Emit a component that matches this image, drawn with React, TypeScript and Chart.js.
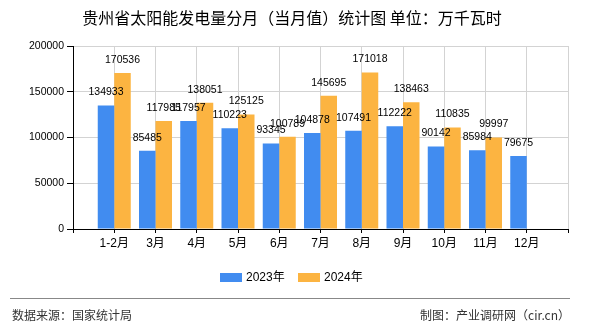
import React, { useEffect, useRef } from "react";
import { Chart, registerables } from "chart.js";

Chart.register(...registerables);

const TITLE = "贵州省太阳能发电量分月（当月值）统计图 单位：万千瓦时";
const SOURCE = "数据来源：国家统计局";
const MAKER = "制图：产业调研网（cir.cn）";

const categories = ["1-2月", "3月", "4月", "5月", "6月", "7月", "8月", "9月", "10月", "11月", "12月"];
const series2023 = [134933, 85485, 117957, 110223, 93345, 104878, 107491, 112222, 90142, 85984, 79675];
const series2024: (number | null)[] = [170536, 117985, 138051, 125125, 100789, 145695, 171018, 138463, 110835, 99997, null];
const yTicks = [0, 50000, 100000, 150000, 200000];

const BLUE = "#418CF0";
const ORANGE = "#FCB441";
const NUM_FONT = '"Liberation Sans", "Noto Sans CJK SC", sans-serif';
const CJK_FONT = '"Noto Sans CJK SC", "Liberation Sans", sans-serif';

const decorPlugin = {
  id: "decor",
  afterDatasetsDraw(chart: any) {
    const ctx = chart.ctx;
    ctx.save();
    ctx.font = `10.5px ${NUM_FONT}`;
    ctx.fillStyle = "#000";
    ctx.textAlign = "center";
    ctx.textBaseline = "middle";
    chart.data.datasets.forEach((ds: any, i: number) => {
      const meta = chart.getDatasetMeta(i);
      meta.data.forEach((bar: any, j: number) => {
        const v = ds.data[j];
        if (v == null) return;
        ctx.fillText(String(v), bar.x, bar.y - 13);
      });
    });
    ctx.restore();
  },
  afterDraw(chart: any) {
    const ctx = chart.ctx;
    ctx.save();
    // title
    ctx.fillStyle = "#000";
    ctx.font = `16px ${CJK_FONT}`;
    ctx.textAlign = "center";
    ctx.textBaseline = "middle";
    ctx.fillText(TITLE, 292, 18);
    // legend
    ctx.font = `12px ${NUM_FONT}`;
    ctx.textAlign = "left";
    const legendX = [220, 298];
    chart.data.datasets.forEach((ds: any, i: number) => {
      const x = legendX[i];
      ctx.fillStyle = ds.backgroundColor;
      ctx.fillRect(x, 273, 22, 9);
      ctx.fillStyle = "#000";
      ctx.fillText(ds.label, x + 26, 277.5);
    });
    // separator
    ctx.strokeStyle = "#888";
    ctx.lineWidth = 1;
    ctx.beginPath();
    ctx.moveTo(10, 298.5);
    ctx.lineTo(570, 298.5);
    ctx.stroke();
    // footer
    ctx.fillStyle = "#333";
    ctx.font = `12px ${CJK_FONT}`;
    ctx.textAlign = "left";
    ctx.fillText(SOURCE, 12, 315);
    ctx.textAlign = "right";
    ctx.fillText(MAKER, 570, 315);
    ctx.restore();
  },
};

export default function App() {
  const ref = useRef<HTMLCanvasElement | null>(null);
  useEffect(() => {
    if (!ref.current) return;
    const labels = ["", ...categories, ""];
    const d2023 = [null, ...series2023, null];
    const d2024 = [null, ...series2024, null];
    const chart = new Chart(ref.current, {
      type: "bar",
      data: {
        labels,
        datasets: [
          { label: "2023年", data: d2023, backgroundColor: BLUE, categoryPercentage: 0.8, barPercentage: 1.0 },
          { label: "2024年", data: d2024, backgroundColor: ORANGE, categoryPercentage: 0.8, barPercentage: 1.0 },
        ],
      },
      options: {
        responsive: false,
        animation: false,
        devicePixelRatio: 1,
        layout: { padding: { top: 46, right: 22, left: 0, bottom: 76 } },
        plugins: { legend: { display: false }, title: { display: false }, tooltip: { enabled: false } },
        scales: {
          x: {
            type: "category",
            offset: false,
            grid: { offset: false, color: "#d3d3d3", tickColor: "#000", tickLength: 4, drawTicks: true },
            border: { color: "#000", width: 1 },
            ticks: { autoSkip: false, maxRotation: 0, minRotation: 0, padding: 3, color: "#000", font: { family: NUM_FONT, size: 12 } },
            afterFit: (scale: any) => { scale.height = 25; },
          },
          y: {
            min: yTicks[0],
            max: yTicks[yTicks.length - 1],
            afterBuildTicks: (scale: any) => { scale.ticks = yTicks.map((v) => ({ value: v })); },
            grid: { color: "#d3d3d3", tickColor: "#000", tickLength: 6 },
            border: { color: "#000", width: 1 },
            ticks: {
              padding: 3,
              color: "#000",
              font: { family: NUM_FONT, size: 10.5 },
              callback: (v: any) => String(v),
            },
            afterFit: (scale: any) => { scale.width = 73; },
          },
        },
      },
      plugins: [decorPlugin],
    } as any);
    return () => chart.destroy();
  }, []);
  return (
    <div style={{ position: "absolute", left: 0, top: 0, width: 590, height: 330, background: "#fff" }}>
      <canvas ref={ref} width={590} height={330} />
    </div>
  );
}
